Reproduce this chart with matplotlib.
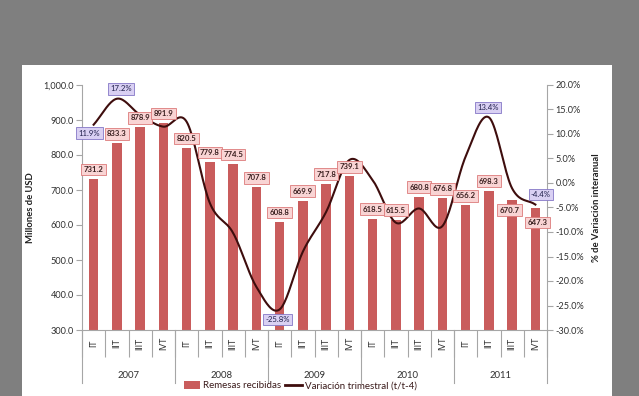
import numpy as np
import matplotlib
matplotlib.use("Agg")
import matplotlib.pyplot as plt
from matplotlib.patches import Patch, Rectangle
from matplotlib.lines import Line2D

plt.rcParams['font.family'] = ['Lato', 'DejaVu Sans']

# data
years = ['2007', '2008', '2009', '2010', '2011']
quarters = ['IT', 'IIT', 'IIIT', 'IVT']
remesas = [731.2, 833.3, 878.9, 891.9, 820.5, 779.8, 774.5, 707.8,
           608.8, 669.9, 717.8, 739.1, 618.5, 615.5, 680.8, 676.8,
           656.2, 698.3, 670.7, 647.3]
variacion = [11.9, 17.2, 13.9, 11.5, 12.5, -4.1, -10.2, -21.2,
             -25.8, -14.0, -5.9, 4.7, 0.6, -8.1, -5.2, -8.8,
             5.4, 13.4, -1.1, -4.4]
pct_labeled = [0, 1, 8, 17, 19]

bar_color = '#c95c5c'
line_color = '#3e0d0d'
grid_gray = '#a6a6a6'
text_color = '#303030'


def catmull_rom(x, y, n=20):
    # smoothed line like the spreadsheet "smooth line" option
    x = np.asarray(x, float)
    y = np.asarray(y, float)
    px = np.concatenate([[2 * x[0] - x[1]], x, [2 * x[-1] - x[-2]]])
    py = np.concatenate([[2 * y[0] - y[1]], y, [2 * y[-1] - y[-2]]])
    xs, ys = [], []
    t = np.linspace(0, 1, n, endpoint=False)
    for i in range(1, len(px) - 2):
        for p, out in ((px, xs), (py, ys)):
            p0, p1, p2, p3 = p[i - 1], p[i], p[i + 1], p[i + 2]
            out.append(0.5 * ((2 * p1) + (-p0 + p2) * t
                              + (2 * p0 - 5 * p1 + 4 * p2 - p3) * t ** 2
                              + (-p0 + 3 * p1 - 3 * p2 + p3) * t ** 3))
    xs.append([x[-1]])
    ys.append([y[-1]])
    return np.concatenate(xs), np.concatenate(ys)


fig = plt.figure(figsize=(6.39, 3.96), dpi=100, facecolor='#7f7f7f')
fig.patches.append(Rectangle((22 / 639, 0), 590 / 639, 331 / 396,
                             transform=fig.transFigure, facecolor='white',
                             edgecolor='none', zorder=-5))

ax = fig.add_axes([82 / 639, 66 / 396, 465 / 639, 245 / 396])
ax.set_facecolor('none')
n = len(remesas)
x = np.arange(n)
ax.bar(x, remesas, width=0.4, color=bar_color, zorder=2)
ax.set_xlim(-0.5, n - 0.5)
ax.set_ylim(300, 1000)
ax.set_yticks(np.arange(300, 1001, 100))
ax.set_yticklabels([f'{v:,.1f}' for v in range(300, 1001, 100)])
ax.tick_params(axis='y', labelsize=6.6, colors=grid_gray, labelcolor=text_color,
               length=4, width=0.8, pad=2)
ax.set_ylabel('Millones de USD', fontsize=6.8, fontweight='bold',
              color='#202020', labelpad=6)

# category axis
ax.set_xticks(np.arange(-0.5, n, 1), minor=True)
ax.set_xticks([])
ax.tick_params(axis='x', which='minor', length=19.5, width=0.8,
               colors=grid_gray, direction='out')
xt = ax.get_xaxis_transform()
for i in range(n):
    ax.text(i, -0.055, quarters[i % 4], transform=xt, rotation=90,
            ha='center', va='center', fontsize=6.2, color=text_color)
for k, yr in enumerate(years):
    ax.text(4 * k + 1.5, -0.185, yr, transform=xt, ha='center',
            va='center', fontsize=6.8, color=text_color)
for b in np.arange(-0.5, n, 4):
    ax.plot([b, b], [0, -0.216], transform=xt, color=grid_gray, lw=0.8,
            clip_on=False)

for side in ['top', 'right']:
    ax.spines[side].set_visible(False)
for side in ['left', 'bottom']:
    ax.spines[side].set_color(grid_gray)
    ax.spines[side].set_linewidth(0.8)

ax2 = ax.twinx()
ax2.set_ylim(-30, 20)
ax2.set_yticks(np.arange(-30, 21, 5))
ax2.set_yticklabels([f'{v:.1f}%' for v in range(-30, 21, 5)])
ax2.tick_params(axis='y', labelsize=6.6, colors=grid_gray, labelcolor=text_color,
                length=4, width=0.8, pad=2)
ax2.set_ylabel('% de Variación interanual', fontsize=6.8, fontweight='bold',
               color='#202020', labelpad=6)
for side in ['top', 'left', 'bottom']:
    ax2.spines[side].set_visible(False)
ax2.spines['right'].set_color(grid_gray)
ax2.spines['right'].set_linewidth(0.8)

sx, sy = catmull_rom(x, variacion)
ax2.plot(sx, sy, color=line_color, lw=1.5, zorder=3)

# bar value labels
bar_offsets = {18: (-1.8, -7.2), 19: (1.5, -10)}
for i, v in enumerate(remesas):
    dx, dy = bar_offsets.get(i, (0, 6.8))
    ax2.annotate(f'{v:.1f}', xy=(i, v), xycoords=ax.transData,
                 xytext=(dx, dy), textcoords='offset points',
                 ha='center', va='center', fontsize=5.6, fontweight='bold',
                 color='#3a2020', zorder=5,
                 bbox=dict(boxstyle='square,pad=0.3', fc='#f9d4d4',
                           ec='#dc7a7a', lw=0.6))

# percentage labels
pct_offsets = {0: (-3, -6), 1: (3.2, 7.2), 8: (-1.5, -7.2),
               17: (-0.5, 7), 19: (4, 7.2)}
for i in pct_labeled:
    dx, dy = pct_offsets[i]
    ax2.annotate(f'{variacion[i]:.1f}%', xy=(i, variacion[i]),
                 xytext=(dx, dy), textcoords='offset points',
                 ha='center', va='center', fontsize=5.6,
                 color='#1f1f4a', zorder=5,
                 bbox=dict(boxstyle='square,pad=0.3', fc='#d9d0f3',
                           ec='#8577c6', lw=0.6))

handles = [Patch(facecolor=bar_color, edgecolor='none', label='Remesas recibidas'),
           Line2D([0], [0], color=line_color, lw=2,
                  label='Variación trimestral (t/t-4)')]
fig.legend(handles=handles, loc='center', bbox_to_anchor=(0.47, 0.026),
           ncol=2, frameon=False, fontsize=7, handlelength=1.7,
           handleheight=0.8, handletextpad=0.3, columnspacing=0.4,
           borderpad=0, labelcolor='#3a1a1a')

fig.savefig('out.png', dpi=100, facecolor=fig.get_facecolor())
